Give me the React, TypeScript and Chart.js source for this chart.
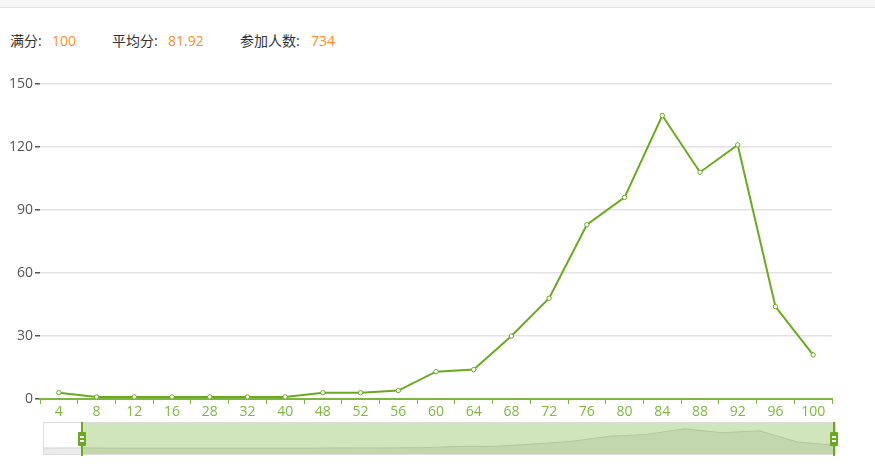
import React, { useEffect, useRef } from "react";
import { Chart, registerables } from "chart.js";

Chart.register(...registerables);

// All score buckets (the first one is outside the zoom window)
const allCategories = ["0", "4", "8", "12", "16", "28", "32", "40", "48", "52", "56", "60", "64", "68", "72", "76", "80", "84", "88", "92", "96", "100"];
const allCounts = [2, 3, 1, 1, 1, 1, 1, 1, 3, 3, 4, 13, 14, 30, 48, 83, 96, 135, 108, 121, 44, 21];
const zoomStartIndex = 1;
const yTicks = [0, 30, 60, 90, 120, 150];

const fullScore = "100";
const avgScore = "81.92";
const participants = "734";

const LINE = "#6aaa1e";
const AXIS = "#7db73f";
const FONT = "'Open Sans', 'Noto Sans CJK SC', sans-serif";

function MainChart() {
  const ref = useRef<HTMLCanvasElement>(null);
  useEffect(() => {
    const cats = allCategories.slice(zoomStartIndex);
    const vals = allCounts.slice(zoomStartIndex);
    const chart = new Chart(ref.current!, {
      type: "line",
      data: {
        labels: cats,
        datasets: [
          {
            data: vals,
            borderColor: LINE,
            borderWidth: 2,
            pointRadius: 2.2,
            pointBorderWidth: 1,
            pointBackgroundColor: "#fff",
            pointBorderColor: LINE,
            tension: 0,
            fill: false,
          },
        ],
      },
      options: {
        animation: false,
        responsive: false,
        maintainAspectRatio: false,
        layout: { padding: { top: 84, right: 43, bottom: 39, left: 0 } },
        plugins: { legend: { display: false }, tooltip: { enabled: false } },
        scales: {
          x: {
            type: "category",
            offset: true,
            afterFit: (s: any) => {
              s.height = 30;
            },
            border: { display: true, color: AXIS, width: 2 },
            grid: {
              offset: true,
              drawOnChartArea: false,
              drawTicks: true,
              tickLength: 5,
              color: AXIS,
              lineWidth: 1,
            },
            ticks: {
              color: AXIS,
              font: { family: FONT, size: 14 },
              padding: 0,
              maxRotation: 0,
              autoSkip: false,
            },
          },
          y: {
            min: yTicks[0],
            max: yTicks[yTicks.length - 1],
            afterFit: (s: any) => {
              s.width = 40;
            },
            afterBuildTicks: (s: any) => {
              s.ticks = yTicks.map((v) => ({ value: v }));
            },
            border: { display: false },
            grid: {
              color: "#e2e2e2",
              lineWidth: 1.5,
              drawTicks: true,
              tickLength: 5,
              tickColor: "#555",
              tickWidth: 1.5,
            },
            ticks: {
              color: "#555",
              font: { family: FONT, size: 14 },
              padding: 2,
            },
          },
        },
      },
    });
    return () => chart.destroy();
  }, []);
  return <canvas ref={ref} width={875} height={468} style={{ position: "absolute", left: 0, top: 0 }} />;
}

function ShadowChart() {
  const ref = useRef<HTMLCanvasElement>(null);
  useEffect(() => {
    const mn = Math.min(...allCounts);
    const mx = Math.max(...allCounts);
    const off = (mx - mn) * 0.3;
    const chart = new Chart(ref.current!, {
      type: "line",
      data: {
        labels: allCategories,
        datasets: [
          {
            data: allCounts,
            borderColor: "#d3d3d3",
            borderWidth: 1,
            backgroundColor: "#ebebeb",
            pointRadius: 0,
            tension: 0,
            fill: "start",
          },
        ],
      },
      options: {
        animation: false,
        responsive: false,
        maintainAspectRatio: false,
        layout: { padding: 0 },
        plugins: { legend: { display: false }, tooltip: { enabled: false } },
        scales: {
          x: { display: false, offset: false },
          y: { display: false, min: mn - off, max: mx + off },
        },
      },
    });
    return () => chart.destroy();
  }, []);
  return <canvas ref={ref} width={791} height={31} style={{ position: "absolute", left: 44, top: 423 }} />;
}

function Handle({ x }: { x: number }) {
  return (
    <>
      <div style={{ position: "absolute", left: x - 1, top: 422, width: 2, height: 34, background: LINE }} />
      <div style={{ position: "absolute", left: x - 4, top: 432, width: 8, height: 14, background: LINE, borderRadius: 1 }} />
      <div style={{ position: "absolute", left: x - 2, top: 436, width: 4, height: 1.5, background: "#fff" }} />
      <div style={{ position: "absolute", left: x - 2, top: 440, width: 4, height: 1.5, background: "#fff" }} />
    </>
  );
}

export default function App() {
  const label: React.CSSProperties = { position: "absolute", top: 31, fontSize: 14, fontFamily: FONT, color: "#333", whiteSpace: "pre", lineHeight: "20px" };
  const value: React.CSSProperties = { ...label, color: "#ff8d24" };
  return (
    <div style={{ position: "absolute", left: 0, top: 0, width: 875, height: 468, background: "#fff", overflow: "hidden" }}>
      <div style={{ position: "absolute", left: 0, top: 0, width: 875, height: 7, background: "#f6f6f6", borderBottom: "1px solid #e2e2e2" }} />
      <span style={{ ...label, left: 10 }}>满分:</span>
      <span style={{ ...value, left: 52 }}>{fullScore}</span>
      <span style={{ ...label, left: 112 }}>平均分:</span>
      <span style={{ ...value, left: 168 }}>{avgScore}</span>
      <span style={{ ...label, left: 240 }}>参加人数:</span>
      <span style={{ ...value, left: 311 }}>{participants}</span>
      <MainChart />
      <div style={{ position: "absolute", left: 43, top: 422, width: 791, height: 31, border: "1px solid #dcdcdc", background: "#fff" }} />
      <ShadowChart />
      <div style={{ position: "absolute", left: 82, top: 423, width: 752, height: 31, background: "rgba(108,170,34,0.31)" }} />
      <Handle x={82} />
      <Handle x={834} />
    </div>
  );
}
